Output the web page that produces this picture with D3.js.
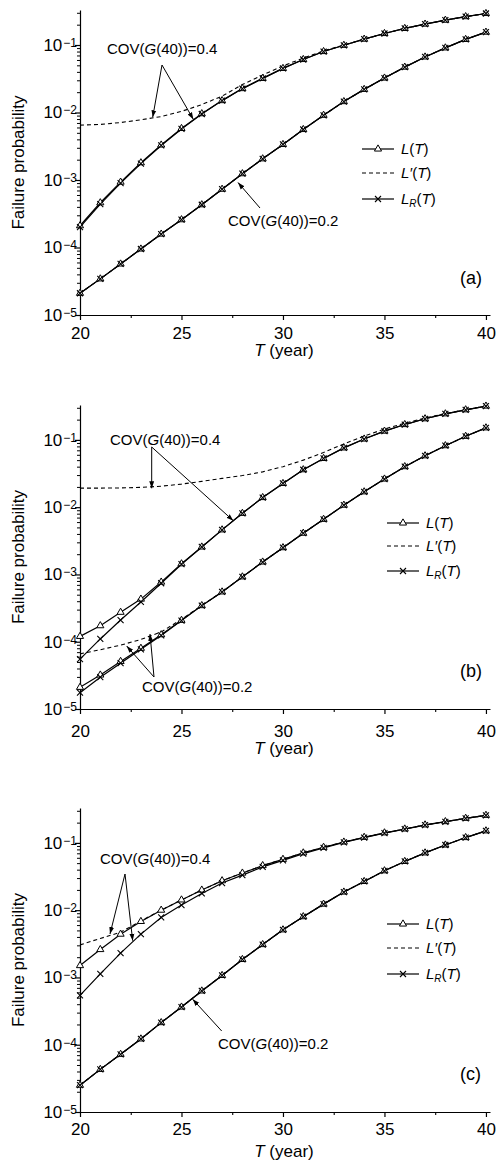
<!DOCTYPE html>
<html><head><meta charset="utf-8">
<script src="https://cdn.jsdelivr.net/npm/d3@7"></script>
<style>
body{margin:0;background:#fff}
svg{display:block;font-family:"Liberation Sans",Arial,sans-serif}
</style>
</head><body>
<svg id="chart" width="496" height="1164"></svg>
<script>
// ---------------- data ----------------
const years = [20,21,22,23,24,25,26,27,28,29,30,31,32,33,34,35,36,37,38,39,40];
const yTickValues = [1e-5,1e-4,1e-3,1e-2,1e-1];
const yTickExp = ["5","4","3","2","1"];
const xTickValues = [20,25,30,35,40];
const xMinorValues = [22.5,27.5,32.5,37.5];
const legendLabels = ["L(T)","L'(T)","LR(T)"];
const panelLabels = ["(a)","(b)","(c)"];
const annot04 = "COV(G(40))=0.4";
const annot02 = "COV(G(40))=0.2";

// panel (a)
const aL04  = [2.1e-4,4.6e-4,9.3e-4,1.8e-3,3.3e-3,5.8e-3,9.6e-3,1.5e-2,2.26e-2,3.2e-2,4.5e-2,6.1e-2,8.0e-2,0.099,0.122,0.148,0.176,0.204,0.233,0.263,0.293];
const aLp04 = [6.5e-3,6.65e-3,7.1e-3,7.8e-3,8.7e-3,1.04e-2,1.31e-2,1.75e-2,2.6e-2,3.6e-2,4.9e-2,6.4e-2,8.2e-2,0.1,0.122,0.148,0.176,0.204,0.233,0.263,0.293];
const aLR04 = [2.0e-4,4.4e-4,9.0e-4,1.75e-3,3.25e-3,5.7e-3,9.5e-3,1.5e-2,2.26e-2,3.2e-2,4.5e-2,6.1e-2,8.0e-2,0.099,0.122,0.148,0.176,0.204,0.233,0.263,0.293];
const aL02  = [2.1e-5,3.43e-5,5.7e-5,9.5e-5,1.58e-4,2.58e-4,4.3e-4,7.3e-4,1.24e-3,2.06e-3,3.36e-3,5.6e-3,9.1e-3,1.45e-2,2.2e-2,3.24e-2,4.7e-2,6.65e-2,9.06e-2,0.121,0.155];
const aLp02 = [2.1e-5,3.43e-5,5.7e-5,9.5e-5,1.58e-4,2.58e-4,4.3e-4,7.3e-4,1.24e-3,2.06e-3,3.36e-3,5.6e-3,9.1e-3,1.45e-2,2.2e-2,3.24e-2,4.7e-2,6.65e-2,9.06e-2,0.121,0.155];
const aLR02 = [2.1e-5,3.43e-5,5.7e-5,9.5e-5,1.58e-4,2.58e-4,4.3e-4,7.3e-4,1.24e-3,2.06e-3,3.36e-3,5.6e-3,9.1e-3,1.45e-2,2.2e-2,3.24e-2,4.7e-2,6.65e-2,9.06e-2,0.121,0.155];

// panel (b)
const bL04  = [1.2e-4,1.73e-4,2.74e-4,4.3e-4,7.7e-4,1.44e-3,2.56e-3,4.6e-3,8.1e-3,1.39e-2,2.25e-2,3.6e-2,5.3e-2,7.6e-2,0.103,0.135,0.169,0.206,0.244,0.28,0.318];
const bLp04 = [1.92e-2,1.92e-2,1.93e-2,1.97e-2,2.05e-2,2.2e-2,2.42e-2,2.68e-2,2.95e-2,3.35e-2,4.0e-2,5.0e-2,6.5e-2,8.7e-2,0.114,0.145,0.177,0.212,0.246,0.281,0.318];
const bLR04 = [5.5e-5,1.1e-4,2.1e-4,3.9e-4,7.4e-4,1.42e-3,2.56e-3,4.6e-3,8.1e-3,1.39e-2,2.25e-2,3.6e-2,5.3e-2,7.6e-2,0.103,0.135,0.169,0.206,0.244,0.28,0.318];
const bL02  = [2.1e-5,3.2e-5,5.1e-5,8.0e-5,1.27e-4,2.08e-4,3.44e-4,5.5e-4,9.2e-4,1.53e-3,2.5e-3,4.1e-3,6.6e-3,1.07e-2,1.69e-2,2.62e-2,4.0e-2,5.8e-2,8.2e-2,0.113,0.151];
const bLp02 = [6.6e-5,7.6e-5,8.9e-5,1.08e-4,1.4e-4,2.15e-4,3.46e-4,5.5e-4,9.2e-4,1.53e-3,2.5e-3,4.1e-3,6.6e-3,1.07e-2,1.69e-2,2.62e-2,4.0e-2,5.8e-2,8.2e-2,0.113,0.151];
const bLR02 = [1.75e-5,2.97e-5,4.8e-5,7.7e-5,1.24e-4,2.06e-4,3.44e-4,5.5e-4,9.2e-4,1.53e-3,2.5e-3,4.1e-3,6.6e-3,1.07e-2,1.69e-2,2.62e-2,4.0e-2,5.8e-2,8.2e-2,0.113,0.151];

// panel (c)
const cL04  = [1.5e-3,2.6e-3,4.4e-3,6.8e-3,1.0e-2,1.42e-2,1.99e-2,2.74e-2,3.56e-2,4.6e-2,5.7e-2,7.1e-2,8.6e-2,0.103,0.121,0.141,0.161,0.185,0.207,0.232,0.257];
const cLp04 = [3.05e-3,3.8e-3,4.7e-3,6.9e-3,1.0e-2,1.42e-2,1.99e-2,2.74e-2,3.56e-2,4.6e-2,5.7e-2,7.1e-2,8.6e-2,0.103,0.121,0.141,0.161,0.185,0.207,0.232,0.257];
const cLR04 = [5.4e-4,1.13e-3,2.3e-3,4.4e-3,7.8e-3,1.19e-2,1.77e-2,2.53e-2,3.32e-2,4.4e-2,5.5e-2,6.9e-2,8.45e-2,0.102,0.12,0.14,0.16,0.184,0.206,0.231,0.256];
const cL02  = [2.5e-5,4.3e-5,7.2e-5,1.22e-4,2.13e-4,3.63e-4,6.3e-4,1.07e-3,1.85e-3,3.08e-3,5.1e-3,8.0e-3,1.23e-2,1.86e-2,2.67e-2,3.85e-2,5.3e-2,7.1e-2,9.3e-2,0.12,0.151];
const cLp02 = [2.5e-5,4.3e-5,7.2e-5,1.22e-4,2.13e-4,3.63e-4,6.3e-4,1.07e-3,1.85e-3,3.08e-3,5.1e-3,8.0e-3,1.23e-2,1.86e-2,2.67e-2,3.85e-2,5.3e-2,7.1e-2,9.3e-2,0.12,0.151];
const cLR02 = [2.5e-5,4.3e-5,7.2e-5,1.22e-4,2.13e-4,3.63e-4,6.3e-4,1.07e-3,1.85e-3,3.08e-3,5.1e-3,8.0e-3,1.23e-2,1.86e-2,2.67e-2,3.85e-2,5.3e-2,7.1e-2,9.3e-2,0.12,0.151];

// ---------------- layout ----------------
const panels = [
  {label:panelLabels[0], top:10, bot:315, tickBL:339, titleBL:356, lblX:482, lblBL:284,
   legX:362, legY:[149,173,199],
   series:{L04:aL04,Lp04:aLp04,LR04:aLR04,L02:aL02,Lp02:aLp02,LR02:aLR02},
   t04:[107,54], a04:[[162,65,152.7,117.3],[162,65,193.3,119.3]],
   t02:[228,226], a02:[[260,208,238,182.5]]},
  {label:panelLabels[1], top:405, bot:709, tickBL:737, titleBL:754, lblX:482, lblBL:677,
   legX:387, legY:[523,546,571],
   series:{L04:bL04,Lp04:bLp04,LR04:bLR04,L02:bL02,Lp02:bLp02,LR02:bLR02},
   t04:[110,445], a04:[[151.7,447,151.7,488.3],[151.7,447,233.3,520.7]],
   t02:[142,692], a02:[[154,677,126.7,646],[154,677,150,634]]},
  {label:panelLabels[2], top:808, bot:1112, tickBL:1135, titleBL:1157, lblX:481, lblBL:1080,
   legX:387, legY:[924,948,974],
   series:{L04:cL04,Lp04:cLp04,LR04:cLR04,L02:cL02,Lp02:cLp02,LR02:cLR02},
   t04:[100,864], a04:[[125,874,110,934],[125,874,132.7,940.7]],
   t02:[218,1049], a02:[[221.7,1031,192.7,999.3]]}
];

const svg = d3.select("#chart");
svg.append("rect").attr("width",496).attr("height",1164).attr("fill","#fff");
const defs = svg.append("defs");
defs.append("marker").attr("id","arr").attr("viewBox","0 0 10 10")
  .attr("refX",10).attr("refY",5).attr("markerWidth",7).attr("markerHeight",7)
  .attr("markerUnits","userSpaceOnUse").attr("orient","auto")
  .append("path").attr("d","M0,1.5L10,5L0,8.5Z").attr("fill","#000");

const x = d3.scaleLinear().domain([20,40.2]).range([80,490]);
const triSym = d3.symbol().type(d3.symbolTriangle).size(22);
const crossPath = "M-3,-3L3,3M-3,3L3,-3";

function mathText(sel, txt){
  // italic letters L, T, G ; R subscript
  sel.text(null);
  if (txt === "L(T)") {
    sel.append("tspan").attr("font-style","italic").text("L");
    sel.append("tspan").text("(");
    sel.append("tspan").attr("font-style","italic").text("T");
    sel.append("tspan").text(")");
  } else if (txt === "L'(T)") {
    sel.append("tspan").attr("font-style","italic").text("L\u2032");
    sel.append("tspan").text("(");
    sel.append("tspan").attr("font-style","italic").text("T");
    sel.append("tspan").text(")");
  } else if (txt === "LR(T)") {
    sel.append("tspan").attr("font-style","italic").text("L");
    sel.append("tspan").attr("font-style","italic").attr("font-size",10).attr("dy",3).text("R");
    sel.append("tspan").attr("dy",-3).text("(");
    sel.append("tspan").attr("font-style","italic").text("T");
    sel.append("tspan").text(")");
  } else {
    // COV(G(40))=...
    const m = txt.match(/^COV\(G(.*)$/);
    sel.append("tspan").text("COV(");
    sel.append("tspan").attr("font-style","italic").text("G");
    sel.append("tspan").text(m[1]);
  }
}

panels.forEach(p => {
  const y = d3.scaleLog().domain([1e-5,0.33]).range([p.bot,p.top]);
  const g = svg.append("g");

  // x axis
  const xa = g.append("g").attr("transform",`translate(0,${p.bot})`)
    .call(d3.axisBottom(x).tickValues(xTickValues).tickSize(5).tickSizeOuter(0).tickFormat(d3.format("d")));
  xa.selectAll("text").attr("font-size",17).attr("fill","#000").attr("dy",null)
    .attr("y",p.tickBL-p.bot).attr("font-family","Liberation Sans, Arial, sans-serif");
  xa.selectAll("path,line").attr("stroke","#000").attr("stroke-width",1.2);
  g.append("g").attr("transform",`translate(0,${p.bot})`)
    .call(d3.axisBottom(x).tickValues(xMinorValues).tickSize(3).tickFormat(""))
    .call(s=>s.select(".domain").remove())
    .selectAll("line").attr("stroke","#000").attr("stroke-width",1.1);

  // y axis
  const ya = g.append("g").attr("transform","translate(80,0)")
    .call(d3.axisLeft(y).tickValues(yTickValues).tickSize(5).tickSizeOuter(0).tickFormat(""));
  ya.selectAll("path,line").attr("stroke","#000").attr("stroke-width",1.2);
  const minors = [];
  for (let e=-5; e<=-1; e++) for (let k=2; k<=9; k++){ const v=k*Math.pow(10,e); if (v<=0.33) minors.push(v); }
  g.append("g").attr("transform","translate(80,0)")
    .call(d3.axisLeft(y).tickValues(minors).tickSize(3).tickFormat(""))
    .call(s=>s.select(".domain").remove())
    .selectAll("line").attr("stroke","#000").attr("stroke-width",1);
  yTickValues.forEach((v,i) => {
    const t = g.append("text").attr("x",77).attr("y",y(v)+6).attr("text-anchor","end")
      .attr("font-size",17).attr("fill","#000");
    t.append("tspan").text("10");
    t.append("tspan").attr("font-size",12).attr("dy",-4).attr("dx",1).text("\u2212"+yTickExp[i]);
  });

  // titles
  g.append("text").attr("transform",`translate(24,${(p.top+p.bot)/2}) rotate(-90)`)
    .attr("text-anchor","middle").attr("font-size",17).text("Failure probability");
  const xt = g.append("text").attr("x",284).attr("y",p.titleBL).attr("text-anchor","middle").attr("font-size",17);
  xt.append("tspan").attr("font-style","italic").text("T");
  xt.append("tspan").text(" (year)");
  g.append("text").attr("x",p.lblX).attr("y",p.lblBL).attr("text-anchor","end").attr("font-size",18).text(p.label);

  // series
  const line = d3.line().x((d,i)=>x(years[i])).y(d=>y(d));
  const s = p.series;
  [[s.Lp02,"4,3"],[s.Lp04,"4,3"]].forEach(([arr,dash]) => {
    g.append("path").datum(arr).attr("d",line).attr("fill","none").attr("stroke","#000")
      .attr("stroke-width",1.1).attr("stroke-dasharray",dash);
  });
  [s.L02,s.L04,s.LR02,s.LR04].forEach(arr => {
    g.append("path").datum(arr).attr("d",line).attr("fill","none").attr("stroke","#000").attr("stroke-width",1.2);
  });
  [s.L02,s.L04].forEach(arr => {
    g.selectAll(null).data(arr).enter().append("path")
      .attr("transform",(d,i)=>`translate(${x(years[i])},${y(d)})`)
      .attr("d",triSym).attr("fill","#fff").attr("stroke","#000").attr("stroke-width",1);
  });
  [s.LR02,s.LR04].forEach(arr => {
    g.selectAll(null).data(arr).enter().append("path")
      .attr("transform",(d,i)=>`translate(${x(years[i])},${y(d)})`)
      .attr("d",crossPath).attr("fill","none").attr("stroke","#000").attr("stroke-width",1.1);
  });

  // legend
  legendLabels.forEach((lab,i) => {
    const ly = p.legY[i];
    g.append("line").attr("x1",p.legX).attr("x2",p.legX+32).attr("y1",ly).attr("y2",ly)
      .attr("stroke","#000").attr("stroke-width",1.2).attr("stroke-dasharray", i===1?"4,3":null);
    if (i===0) g.append("path").attr("transform",`translate(${p.legX+16},${ly})`).attr("d",triSym)
      .attr("fill","#fff").attr("stroke","#000").attr("stroke-width",1);
    if (i===2) g.append("path").attr("transform",`translate(${p.legX+16},${ly})`).attr("d",crossPath)
      .attr("fill","none").attr("stroke","#000").attr("stroke-width",1.1);
    g.append("text").attr("x",p.legX+39).attr("y",ly+5).attr("font-size",15).call(mathText,lab);
  });

  // annotations
  g.append("text").attr("x",p.t04[0]).attr("y",p.t04[1]).attr("font-size",15).call(mathText,annot04);
  g.append("text").attr("x",p.t02[0]).attr("y",p.t02[1]).attr("font-size",15).call(mathText,annot02);
  p.a04.concat(p.a02).forEach(a => {
    g.append("line").attr("x1",a[0]).attr("y1",a[1]).attr("x2",a[2]).attr("y2",a[3])
      .attr("stroke","#000").attr("stroke-width",1).attr("marker-end","url(#arr)");
  });
});
</script>
</body></html>
